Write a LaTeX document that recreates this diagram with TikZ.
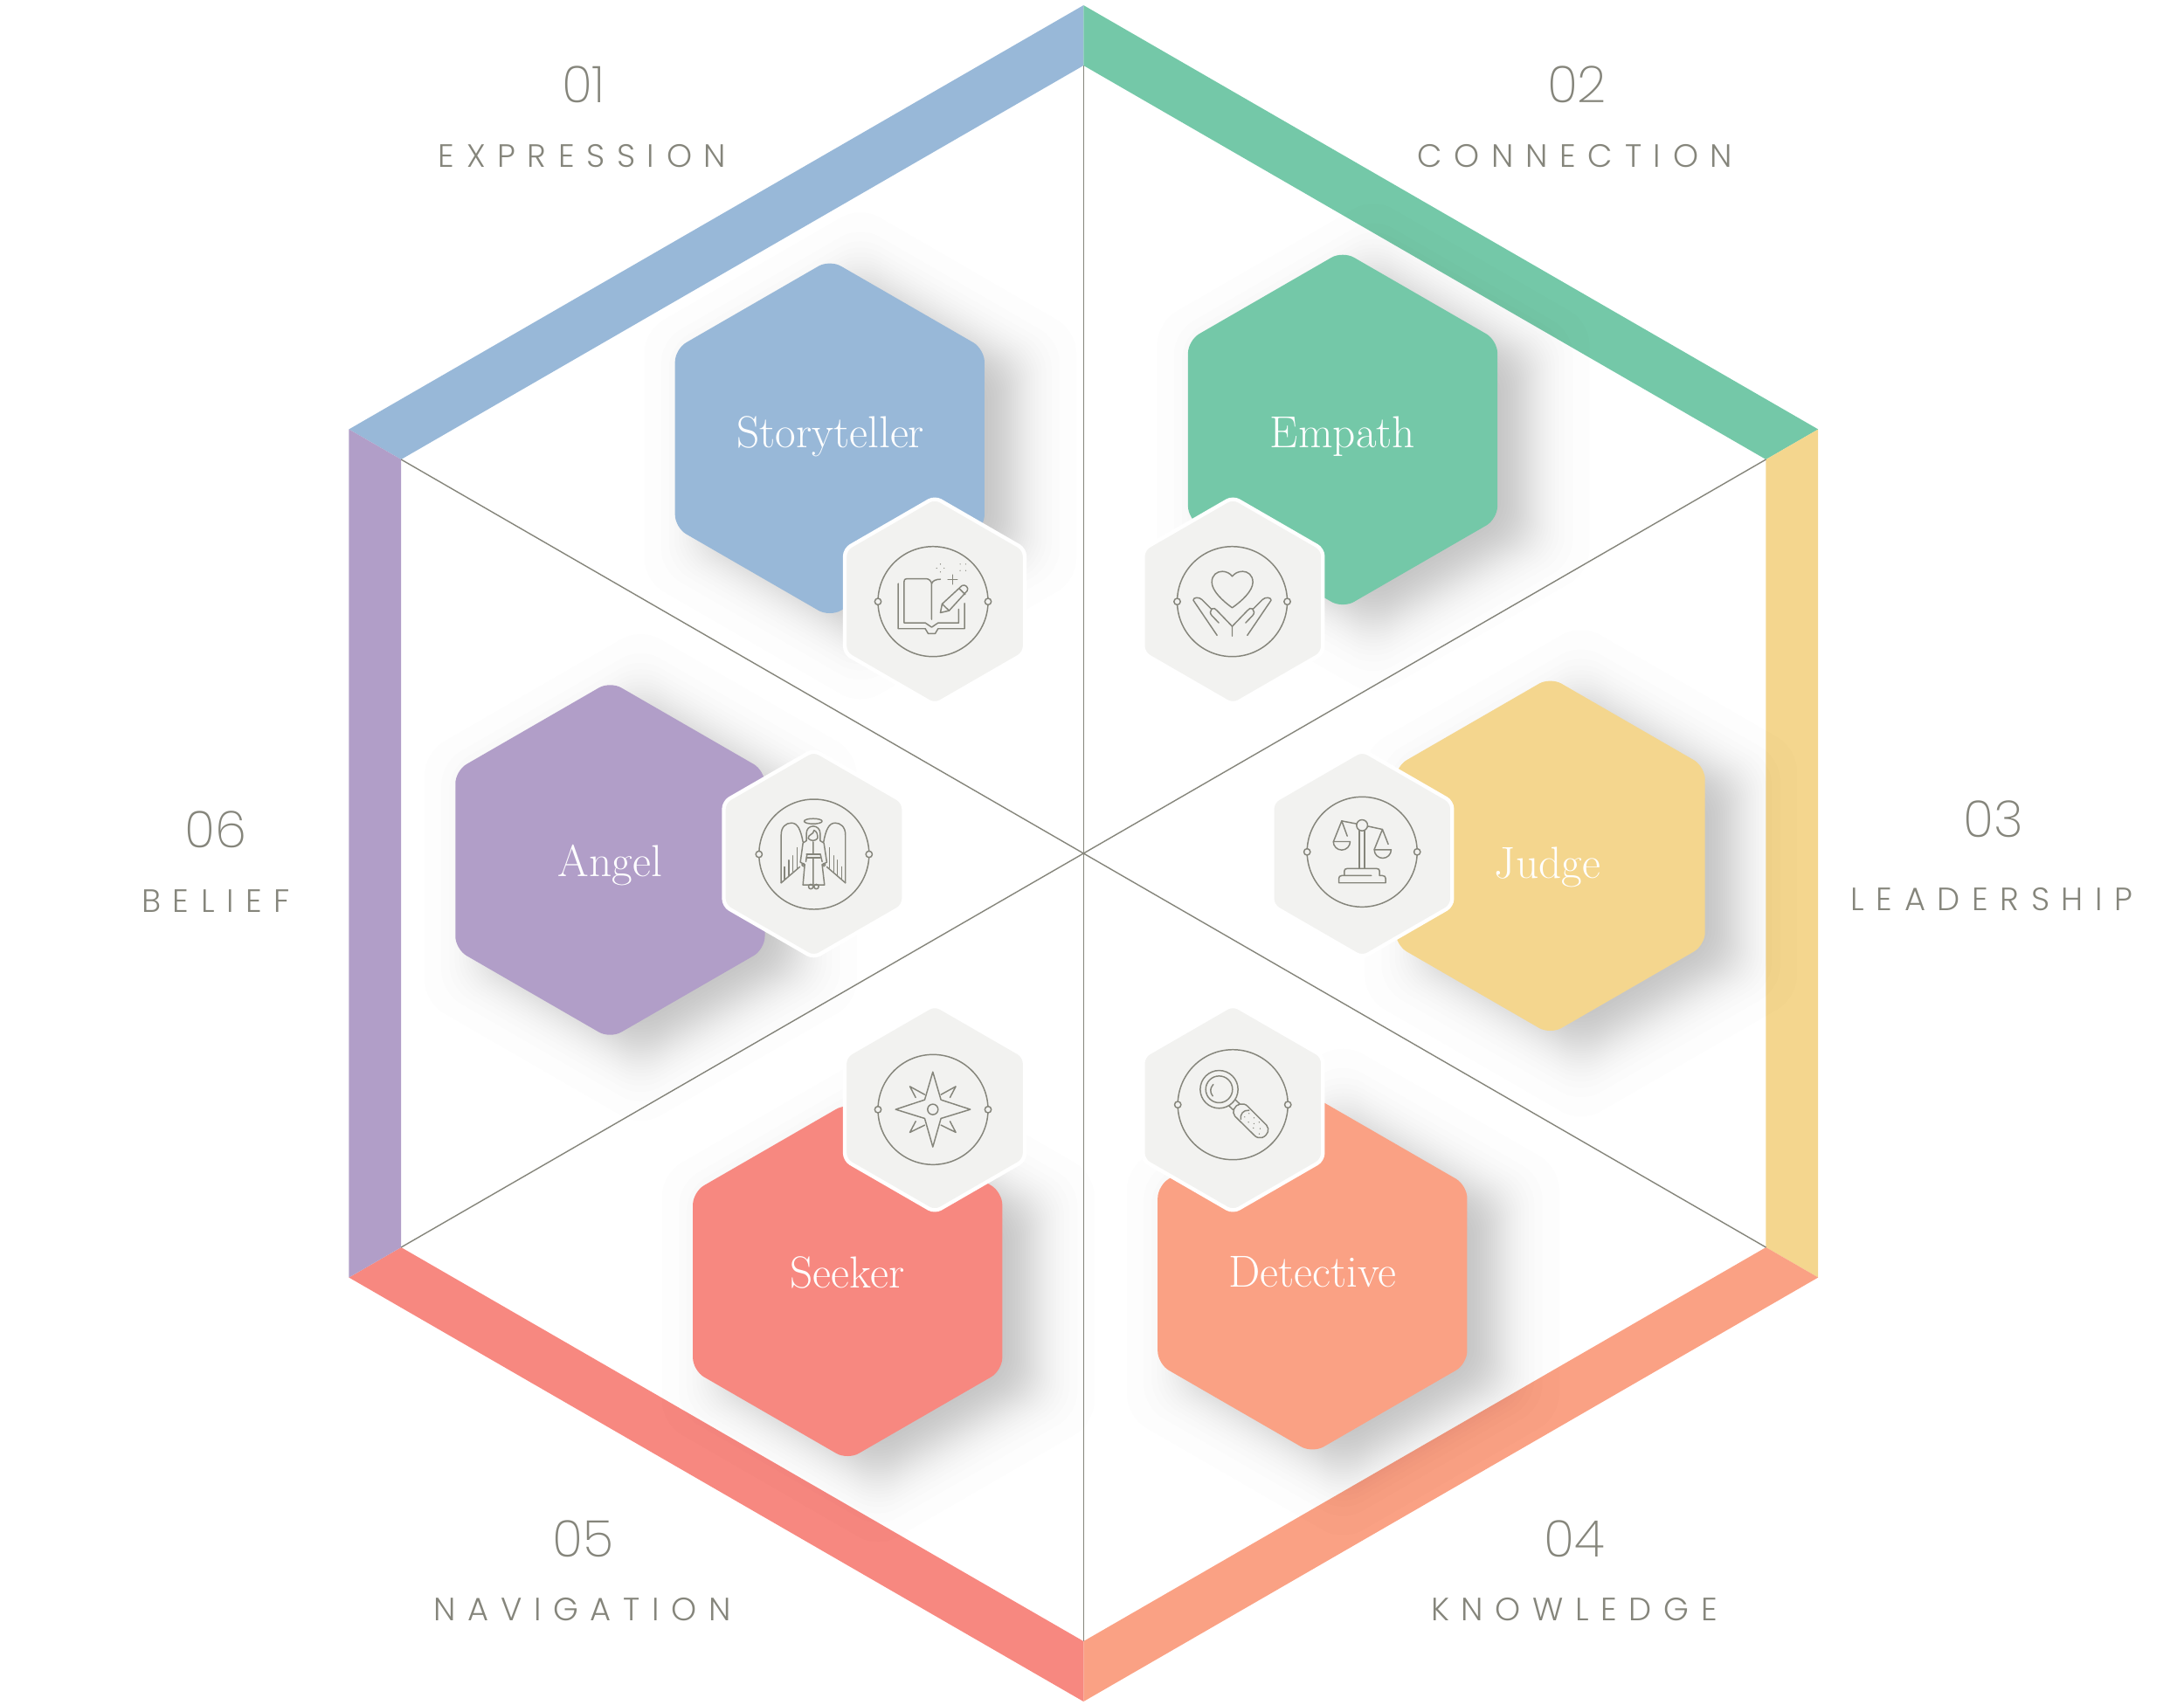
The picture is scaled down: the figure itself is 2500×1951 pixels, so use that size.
\documentclass[tikz,border=0pt]{standalone}
\usepackage{fontspec}
\newfontfamily\numfont{Poppins ExtraLight}
\newfontfamily\capfont[LetterSpace=37]{Poppins Light}
\newfontface\rolefont{lmroman17-regular.otf}
\usetikzlibrary{shapes.geometric}
\definecolor{bandblue}{HTML}{98B8D8}
\definecolor{bandgreen}{HTML}{74C8A8}
\definecolor{bandyellow}{HTML}{F4D68E}
\definecolor{bandorange}{HTML}{FAA184}
\definecolor{bandred}{HTML}{F78880}
\definecolor{bandpurple}{HTML}{B19EC8}
\definecolor{iconbg}{HTML}{F2F2F0}
\definecolor{inkgray}{HTML}{85857B}
\newcommand{\hexpath}[3]{([shift={(-90:#3)}]#1,#2) -- ([shift={(-30:#3)}]#1,#2) -- ([shift={(30:#3)}]#1,#2) -- ([shift={(90:#3)}]#1,#2) -- ([shift={(150:#3)}]#1,#2) -- ([shift={(210:#3)}]#1,#2) -- cycle}

\begin{document}
\begin{tikzpicture}[
    x=0.01cm, y=-0.01cm,
    rolehex/.style={regular polygon, regular polygon sides=6, regular polygon rotate=30, minimum size=4.088cm, inner sep=0pt, outer sep=0pt, rounded corners=4.2pt},
    rolelabel/.style={anchor=base, inner sep=0pt, text=white, font=\rolefont\fontsize{14.6}{18}\selectfont},
    iconhex/.style={regular polygon, regular polygon sides=6, regular polygon rotate=30, minimum size=2.376cm, inner sep=0pt, outer sep=0pt, rounded corners=2.2pt, fill=iconbg, draw=white, line width=1.22pt},
    softshadow/.style={black, fill opacity=0.008, rounded corners=7pt},
    spoke/.style={inkgray, line width=0.4pt},
    iconline/.style={draw=inkgray, line width=0.42pt, line cap=round, line join=round},
    iconzoom/.style={x=0.003333cm, y=-0.003333cm},
    numlabel/.style={text=inkgray, font=\numfont\fontsize{16.5}{18}\selectfont, inner sep=0pt},
    catlabel/.style={text=inkgray, font=\capfont\fontsize{10.5}{12}\selectfont, inner sep=0pt}
]
\useasboundingbox (0,0) rectangle (2500,1951);

% Outer frame
\coordinate (center) at (1240.3,977);
\foreach \v/\ang in {top/-90, ur/-30, lr/30, bot/90, ll/150, ul/210} {
    \coordinate (outer\v) at ([shift={(\ang:971)}]center);
    \coordinate (inner\v) at ([shift={(\ang:902)}]center);
}
\foreach \a/\b/\col in {ul/top/bandblue, top/ur/bandgreen, ur/lr/bandyellow, lr/bot/bandorange, bot/ll/bandred, ll/ul/bandpurple} {
    \fill[\col] (outer\a) -- (outer\b) -- (inner\b) -- (inner\a) -- cycle;
}

% Spokes
\foreach \v in {top, ur, lr, bot, ll, ul} {
    \draw[spoke] (center) -- (inner\v);
}

% Role hexagons
\foreach \name/\col/\x/\y in {storyteller/bandblue/949.8/501.8, empath/bandgreen/1537/491.9, judge/bandyellow/1774.6/979.8, detective/bandorange/1502.3/1459.2, seeker/bandred/970.2/1466.8, angel/bandpurple/698.4/984.5} {
    \foreach \k in {1,...,32} {
        \pgfmathsetmacro\r{204.4+17*ln((32-\k+0.5)/(\k-0.5))/0.866}
        \fill[softshadow] \hexpath{\x+35}{\y+20}{\r};
    }
    \node[rolehex, fill=\col] (\name) at (\x,\y) {};
}

% Role names
\node[rolelabel] (storytellername) at (950.7,512) {Storyteller};
\node[rolelabel] (empathname) at (1537,512) {Empath};
\node[rolelabel] (judgename) at (1771.5,1005) {Judge};
\node[rolelabel] (detectivename) at (1502.3,1473) {Detective};
\node[rolelabel] (seekername) at (970,1474) {Seeker};
\node[rolelabel] (angelname) at (698.5,1003) {Angel};

% Icon hexagons
\node[iconhex] (storytellericon) at (1070,688.3) {};
\node[iconhex] (empathicon) at (1411.3,688.3) {};
\node[iconhex] (angelicon) at (931.5,977.5) {};
\node[iconhex] (judgeicon) at (1559.3,977.5) {};
\node[iconhex] (seekericon) at (1070,1268.7) {};
\node[iconhex] (detectiveicon) at (1411.3,1268.7) {};

% Icon rings
\foreach \x/\y in {1068/688.7, 1410.5/688.7, 931.8/978, 1559.2/975.3, 1068/1270.3, 1411.2/1264.7} {
    \draw[iconline] (\x,\y) circle (63);
    \draw[iconline, fill=iconbg] (\x-63,\y) circle (3.7);
    \draw[iconline, fill=iconbg] (\x+63,\y) circle (3.7);
}

% Book and pencil
\begin{scope}[shift={(940,560)}, iconzoom, iconline]
    \draw (265,325) -- (265,480) -- (358,480) -- (368,497) -- (392,497) -- (402,480) -- (493,480) -- (493,393);
    \draw (380,448) -- (380,325) .. controls (378,315) and (370,308) .. (360,308) -- (295,308) .. controls (288,308) and (285,312) .. (285,318) -- (285,460) -- (358,460) -- (380,475) -- (402,460) -- (473,460) -- (473,413);
    \draw (380,325) .. controls (383,315) and (395,310) .. (410,310);
    \draw (410,425) -- (416,395) -- (484,332) .. controls (495,325) and (510,340) .. (502,350) -- (440,418) -- cycle;
    \draw (416,395) -- (440,418);
    \draw (475,342) -- (495,362);
    \draw (452,295) -- (452,327);
    \draw (436,311) -- (468,311);
    \foreach \px/\py in {410/258, 410/285, 397/272, 423/272, 478/258, 497/258, 478/280, 497/280} {
        \fill[inkgray] (\px,\py) circle (2);
    }
\end{scope}

% Hands and heart
\begin{scope}[shift={(1290,560)}, iconzoom, iconline]
    \draw (362,408) .. controls (330,385) and (292,350) .. (292,320) .. controls (292,295) and (310,283) .. (328,283) .. controls (342,283) and (355,290) .. (362,300) .. controls (370,290) and (382,283) .. (398,283) .. controls (415,283) and (433,295) .. (433,320) .. controls (433,350) and (395,385) .. (362,408) -- cycle;
    \draw (310,503) -- (228,382) .. controls (228,372) and (248,370) .. (258,380) -- (290,412) .. controls (298,408) and (305,410) .. (310,418) -- (362,472) -- (362,505);
    \draw (316,460) -- (292,435) .. controls (285,428) and (285,418) .. (292,412);
    \draw (414,503) -- (496,382) .. controls (496,372) and (476,370) .. (466,380) -- (434,412) .. controls (426,408) and (419,410) .. (414,418) -- (362,472);
    \draw (408,460) -- (432,435) .. controls (439,428) and (439,418) .. (432,412);
\end{scope}

% Angel
\begin{scope}[shift={(800,850)}, iconzoom, iconline]
    \draw (393,271) ellipse (31 and 9);
    \draw (370,338) -- (370,312) .. controls (370,298) and (380,288) .. (393,288) .. controls (406,288) and (417,298) .. (417,312) -- (417,338);
    \draw (376,330) .. controls (376,315) and (395,318) .. (396,302) .. controls (405,305) and (410,318) .. (408,330) .. controls (400,340) and (385,340) .. (376,330);
    \draw (370,338) -- (358,346) -- (349,412) -- (364,420) -- (358,490) -- (432,490) -- (424,420) -- (440,412) -- (430,346) -- (417,338);
    \draw (372,385) -- (368,410) (418,385) -- (424,410) (393,342) -- (393,385) (393,397) -- (393,488);
    \draw (370,385) -- (418,385) (370,396) -- (418,396);
    \draw (385,496) circle (8) (404,496) circle (8);
    \draw (359,421) circle (5) (430,421) circle (5);
    \draw (283,483) -- (283,318) .. controls (283,290) and (300,277) .. (318,277) .. controls (340,277) and (350,300) .. (358,342);
    \draw (283,483) -- (347,428);
    \draw (504,483) -- (504,318) .. controls (504,290) and (487,277) .. (469,277) .. controls (447,277) and (437,300) .. (429,342);
    \draw (504,483) -- (440,428);
    \foreach \fx/\fa/\fb in {295/428/470, 310/405/458, 323/390/445, 338/362/432} {
        \draw (\fx,\fa) -- (\fx,\fb);
    }
    \foreach \fx/\fa/\fb in {492/428/470, 477/405/458, 464/390/445, 449/362/432} {
        \draw (\fx,\fa) -- (\fx,\fb);
    }
\end{scope}

% Scales
\begin{scope}[shift={(1440,850)}, iconzoom, iconline]
    \draw (358,285) circle (19);
    \draw (288,270) -- (340,280) (377,288) -- (428,299);
    \draw (307,322) -- (288,270) -- (260,340);
    \draw (259,341) -- (317,341) arc (0:180:29) -- cycle;
    \draw (448,350) -- (428,299) -- (400,368);
    \draw (400,369) -- (458,369) arc (0:180:29) -- cycle;
    \draw (348,303) -- (348,433) (367,303) -- (367,433);
    \draw (297,458) -- (297,443) .. controls (297,437) and (300,434) .. (306,434) -- (409,434) .. controls (415,434) and (418,437) .. (418,443) -- (418,458) -- (428,458) .. controls (435,458) and (439,462) .. (439,468) -- (439,483) -- (278,483) -- (278,468) .. controls (278,462) and (282,458) .. (288,458) -- (390,458);
\end{scope}

% Compass star
\begin{scope}[shift={(940,1140)}, iconzoom, iconline]
    \draw (384,262) -- (412,358) -- (513,391) -- (412,422) -- (384,520) -- (356,422) -- (256,391) -- (356,358) -- cycle;
    \draw (384,391) circle (18);
    \draw (412,340) -- (463,312) -- (443,350);
    \draw (356,340) -- (305,312) -- (325,350);
    \draw (412,445) -- (463,470) -- (443,432);
    \draw (356,445) -- (305,470) -- (325,432);
\end{scope}

% Magnifying glass
\begin{scope}[shift={(1290,1140)}, iconzoom, iconline]
    \draw (317,322) circle (65) (317,322) circle (46);
    \draw (297,305) .. controls (285,318) and (285,332) .. (295,345);
    \draw (350,378) -- (365,392) (373,358) -- (388,372);
    \draw (368,390) .. controls (375,372) and (400,365) .. (415,380) -- (480,445) .. controls (492,460) and (485,480) .. (465,488) .. controls (455,490) and (445,488) .. (438,480) -- (372,415) .. controls (365,408) and (365,398) .. (368,390);
    \draw (392,425) .. controls (388,408) and (400,392) .. (420,394);
    \foreach \px/\py in {405/417, 420/405, 437/420, 418/435, 437/440, 455/435, 435/455, 458/457, 455/475} {
        \fill[inkgray] (\px,\py) circle (2.2);
    }
\end{scope}

% Category labels
\node[numlabel] (numone) at (668,97) {01};
\node[catlabel] (catone) at (666.5,178.5) {EXPRESSION};
\node[numlabel] (numtwo) at (1805,97) {02};
\node[catlabel] (cattwo) at (1803,178.5) {CONNECTION};
\node[numlabel] (numthree) at (2281.6,937.5) {03};
\node[catlabel] (catthree) at (2280,1029.5) {LEADERSHIP};
\node[numlabel] (numfour) at (1802,1762) {04};
\node[catlabel] (catfour) at (1802,1843) {KNOWLEDGE};
\node[numlabel] (numfive) at (668,1762) {05};
\node[catlabel] (catfive) at (666.5,1843) {NAVIGATION};
\node[numlabel] (numsix) at (247,950) {06};
\node[catlabel] (catsix) at (247,1031.5) {BELIEF};

\end{tikzpicture}
\end{document}
